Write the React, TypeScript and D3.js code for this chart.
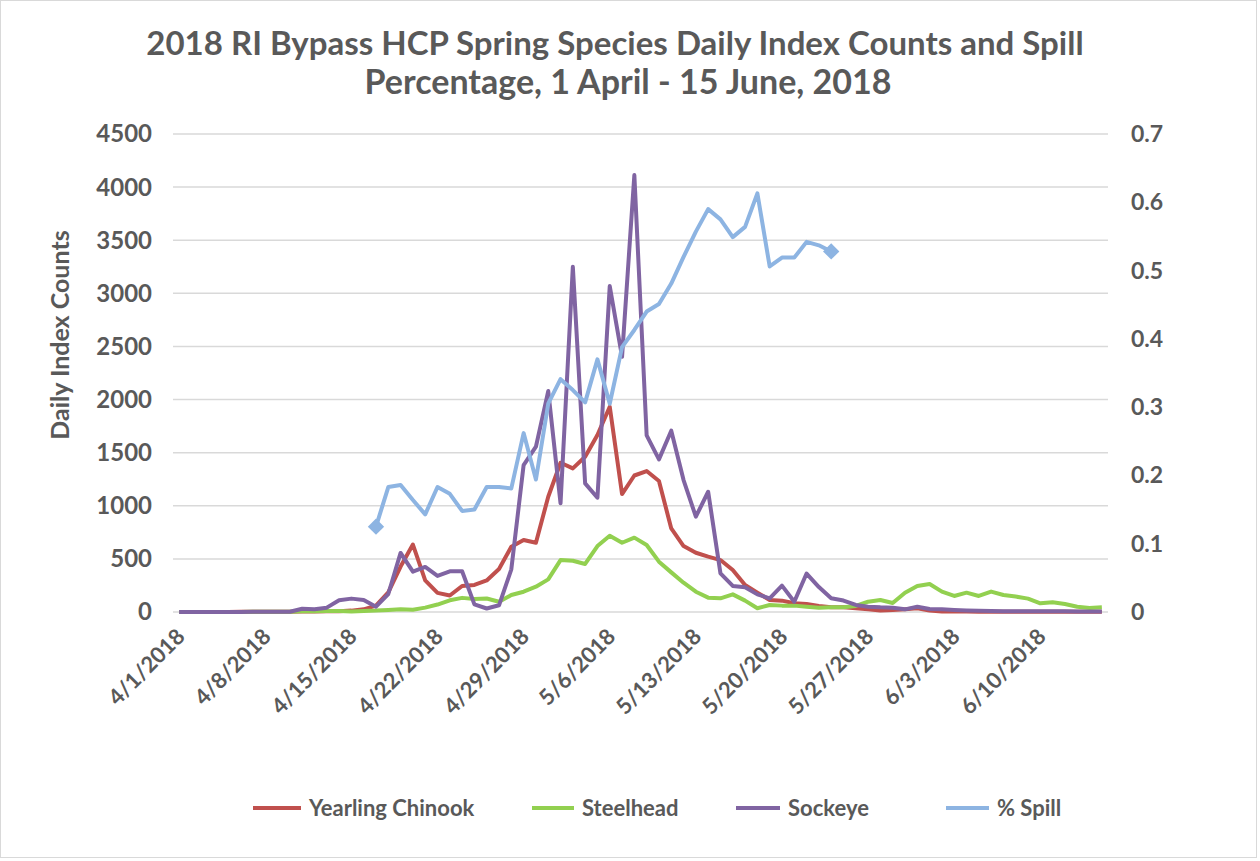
import React from "react";
import * as d3 from "d3";

// ---- Data (1 April – 15 June 2018, one value per day) ----
const startDate = new Date(2018, 3, 1);
const endDate = new Date(2018, 5, 15);
const dates: Date[] = d3.timeDay.range(startDate, d3.timeDay.offset(endDate, 1));

const tickLabels = [
  "4/1/2018", "4/8/2018", "4/15/2018", "4/22/2018", "4/29/2018", "5/6/2018",
  "5/13/2018", "5/20/2018", "5/27/2018", "6/3/2018", "6/10/2018",
];

const yearlingChinook = [
  0, 0, 0, 0, 0, 2, 2, 3, 3, 3, 5, 5, 6, 8, 13, 25, 60, 185, 428, 635,
  298, 180, 155, 245, 255, 297, 404, 615, 678, 652, 1085, 1405, 1352, 1462, 1666, 1932, 1110, 1285, 1327, 1233,
  787, 621, 558, 521, 489, 395, 254, 182, 113, 107, 82, 75, 57, 44, 44, 35, 25, 13, 19, 25,
  35, 13, 5, 4, 4, 3, 3, 3, 2, 2, 2, 2, 2, 2, 2, 2,
];

const steelhead = [
  0, 0, 0, 1, 1, 1, 2, 2, 2, 3, 6, 8, 9, 9, 5, 10, 13, 19, 25, 22,
  41, 70, 110, 133, 123, 127, 96, 160, 191, 238, 307, 489, 483, 452, 621, 718, 652, 700, 631, 474,
  373, 276, 191, 135, 129, 166, 107, 35, 66, 60, 60, 50, 41, 44, 44, 57, 97, 113, 85, 182,
  245, 264, 192, 151, 182, 151, 192, 160, 145, 126, 82, 91, 75, 50, 38, 44,
];

const sockeye = [
  0, 0, 0, 0, 0, 0, 2, 3, 3, 3, 31, 25, 41, 110, 126, 113, 50, 169, 556, 380,
  424, 340, 383, 383, 72, 33, 63, 402, 1383, 1556, 2080, 1023, 3250, 1211, 1076, 3068, 2403, 4113, 1663, 1437,
  1707, 1242, 897, 1132, 364, 245, 232, 166, 129, 248, 97, 362, 235, 129, 108, 66, 50, 44, 41, 25,
  50, 28, 25, 19, 15, 12, 10, 8, 8, 7, 7, 6, 6, 5, 5, 5,
];

const N = null;
const spill: (number | null)[] = [
  N, N, N, N, N, N, N, N, N, N, N, N, N, N, N, N, 0.125, 0.183, 0.186, 0.164,
  0.143, 0.183, 0.173, 0.148, 0.150, 0.183, 0.183, 0.181, 0.262, 0.194, 0.305, 0.341, 0.325, 0.307, 0.370, 0.305, 0.388, 0.413, 0.440, 0.451,
  0.481, 0.520, 0.557, 0.590, 0.575, 0.549, 0.564, 0.613, 0.506, 0.519, 0.519, 0.542, 0.537, 0.528, N, N, N, N, N, N,
  N, N, N, N, N, N, N, N, N, N, N, N, N, N, N, N,
];

const leftTicks = [0, 500, 1000, 1500, 2000, 2500, 3000, 3500, 4000, 4500];
const rightTicks = [0, 0.1, 0.2, 0.3, 0.4, 0.5, 0.6, 0.7];

const seriesNames = ["Yearling Chinook", "Steelhead", "Sockeye", "% Spill"];
const seriesColors = ["#C0504D", "#92D050", "#8064A2", "#8DB4E2"];

const W = 1260;
const H = 861;
const FONT = "Lato, 'Open Sans', sans-serif";
const TEXT = "#595959";

export default function App() {
  const plotLeft = 173;
  const plotRight = 1108;
  const plotTop = 134;
  const plotBottom = 612;

  const idx = dates.map((_, i) => i);
  const xBand = d3.scaleBand<number>().domain(idx).range([plotLeft, plotRight]).paddingInner(0).paddingOuter(0);
  const x = (i: number) => (xBand(i) as number) + xBand.bandwidth() / 2;
  const y = d3.scaleLinear().domain([0, 4500]).range([plotBottom, plotTop]);
  const y2 = d3.scaleLinear().domain([0, 0.7]).range([plotBottom, plotTop]);

  const lineLeft = d3
    .line<number>()
    .x((_, i) => x(i))
    .y((d) => y(d));
  const lineSpill = d3
    .line<number | null>()
    .defined((d) => d != null)
    .x((_, i) => x(i))
    .y((d) => y2(d as number));

  const spillIdx = spill.map((v, i) => (v == null ? -1 : i)).filter((i) => i >= 0);
  const endpoints = [spillIdx[0], spillIdx[spillIdx.length - 1]];
  const diamond = d3.symbol().type(d3.symbolDiamond2).size(170)();

  const tickIdx = tickLabels.map((_, k) => k * 7);

  const legendItems = [
    { lx: 253, tx: 309 },
    { lx: 532, tx: 582 },
    { lx: 736, tx: 788 },
    { lx: 946, tx: 997 },
  ];

  const SW = 4;

  return (
    <svg
      width={W}
      height={H}
      style={{ position: "absolute", left: 0, top: 0, background: "#fff" }}
      fontFamily={FONT}
    >
      <rect x={0.5} y={0.5} width={W - 4} height={H - 4} fill="#fff" stroke="#D9D9D9" />

      {/* Title */}
      <text x={615} y={55} textAnchor="middle" fontSize={33} fontWeight={700} fill={TEXT}>
        2018 RI Bypass HCP Spring Species Daily Index Counts and Spill
      </text>
      <text x={628} y={94} textAnchor="middle" fontSize={34} fontWeight={700} fill={TEXT}>
        Percentage, 1 April - 15 June, 2018
      </text>

      {/* Gridlines */}
      {leftTicks.map((t) => (
        <line key={t} x1={plotLeft} x2={plotRight} y1={y(t)} y2={y(t)} stroke="#D9D9D9" strokeWidth={1.5} />
      ))}

      {/* Left axis labels */}
      {leftTicks.map((t) => (
        <text key={t} x={152} y={y(t)} dy="0.35em" textAnchor="end" fontSize={24} fontWeight={700} fill={TEXT}>
          {t}
        </text>
      ))}
      {/* Right axis labels */}
      {rightTicks.map((t) => (
        <text key={t} x={1131} y={y2(t)} dy="0.35em" textAnchor="start" fontSize={23} fontWeight={700} fill={TEXT}>
          {t}
        </text>
      ))}

      {/* Y axis title */}
      <text
        transform={`translate(69,335) rotate(-90)`}
        textAnchor="middle"
        fontSize={25}
        fontWeight={700}
        fill={TEXT}
      >
        Daily Index Counts
      </text>

      {/* X axis labels */}
      {tickIdx.map((i, k) => (
        <text
          key={k}
          transform={`translate(${x(i) + 1},${plotBottom + 20}) rotate(-45)`}
          textAnchor="end"
          dominantBaseline="central"
          fontSize={22}
          fontWeight={700}
          fill={TEXT}
        >
          {tickLabels[k]}
        </text>
      ))}

      {/* Series */}
      <path d={lineLeft(yearlingChinook) || ""} fill="none" stroke={seriesColors[0]} strokeWidth={SW} strokeLinejoin="round" />
      <path d={lineLeft(steelhead) || ""} fill="none" stroke={seriesColors[1]} strokeWidth={SW} strokeLinejoin="round" />
      <path d={lineLeft(sockeye) || ""} fill="none" stroke={seriesColors[2]} strokeWidth={SW} strokeLinejoin="round" />
      <path d={lineSpill(spill) || ""} fill="none" stroke={seriesColors[3]} strokeWidth={SW} strokeLinejoin="round" />
      {endpoints.map((i) => (
        <path key={i} d={diamond || ""} transform={`translate(${x(i)},${y2(spill[i] as number)})`} fill={seriesColors[3]} />
      ))}

      {/* Legend */}
      {seriesNames.map((name, k) => (
        <g key={name}>
          <line
            x1={legendItems[k].lx}
            x2={legendItems[k].tx - 8}
            y1={808}
            y2={808}
            stroke={seriesColors[k]}
            strokeWidth={SW}
          />
          <text x={legendItems[k].tx} y={808} dy="0.35em" fontSize={22} fontWeight={700} fill={TEXT}>
            {name}
          </text>
        </g>
      ))}
    </svg>
  );
}
